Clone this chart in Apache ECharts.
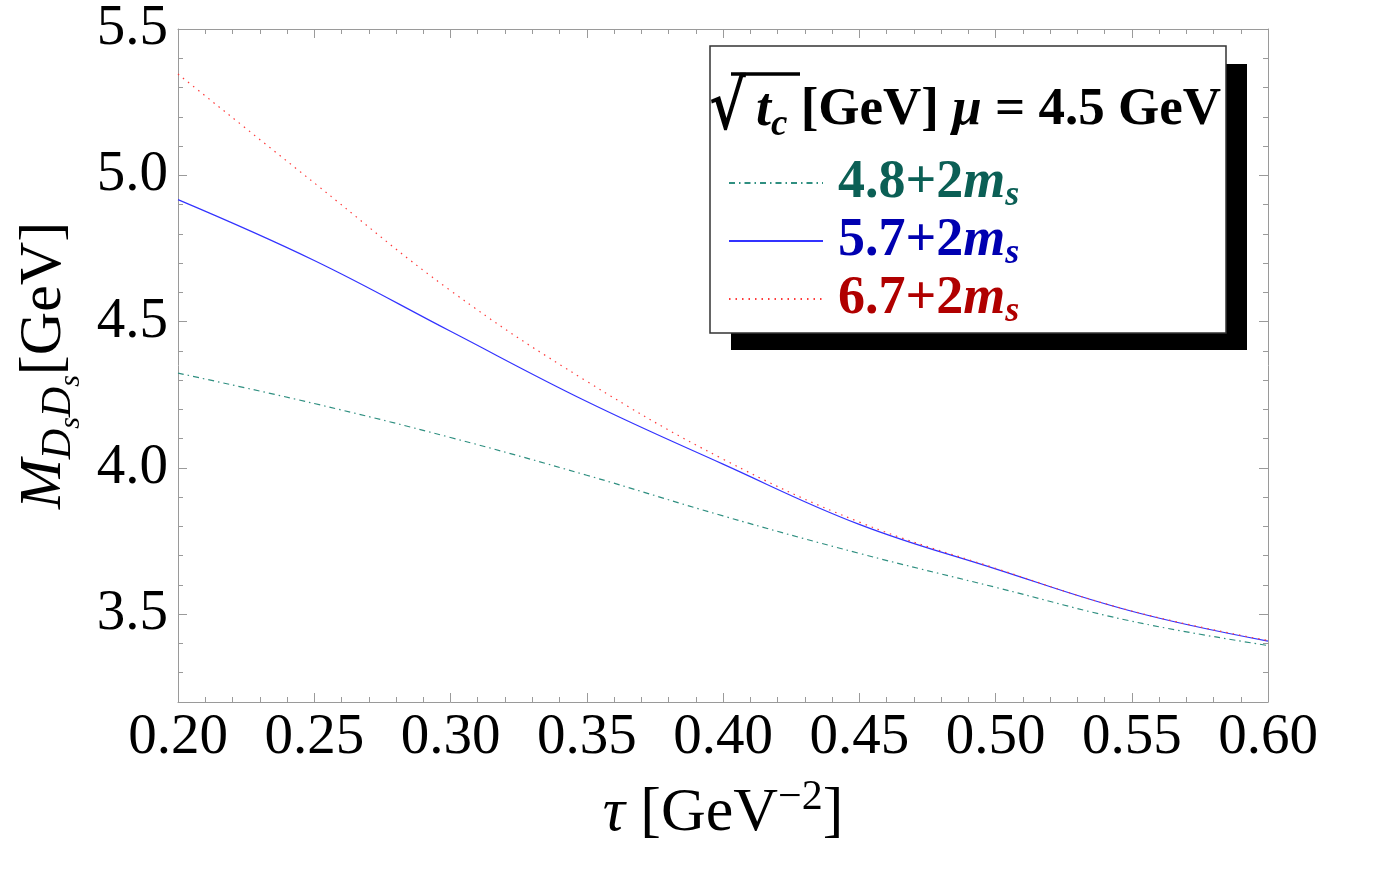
<!DOCTYPE html>
<html>
<head>
<meta charset="utf-8">
<script src="https://cdn.jsdelivr.net/npm/echarts@6/dist/echarts.min.js"></script>
<style>html,body{margin:0;padding:0;background:#fff}#c{width:1397px;height:873px}</style>
</head>
<body>
<div id="c"></div>
<script>
// ---- data ----
const tau = [0.20, 0.25, 0.30, 0.35, 0.40, 0.45, 0.50, 0.55, 0.60];
const m48 = [4.324, 4.220, 4.104, 3.975, 3.836, 3.708, 3.592, 3.476, 3.393];
const m57 = [4.917, 4.709, 4.467, 4.227, 4.013, 3.807, 3.655, 3.510, 3.408];
const m67 = [5.346, 4.974, 4.606, 4.296, 4.030, 3.815, 3.657, 3.511, 3.410];
const tcLabels = ['4.8', '5.7', '6.7'];
const yMajor = [3.5, 4.0, 4.5, 5.0, 5.5];
const xMajor = [0.20, 0.25, 0.30, 0.35, 0.40, 0.45, 0.50, 0.55, 0.60];

const FONT = 'Liberation Serif';
const axisGrey = '#9a9a9a';
const lineCols = ['#2f8f80', '#3333ff', '#ff3a3a'];
const textCols = ['#0b5f55', '#0000b0', '#b00000'];

function pairs(ys) { return tau.map((t, i) => [t, ys[i]]); }
const seriesVals = [m48, m57, m67];
const dashes = [[6, 4, 1.5, 4], 'solid', [1.5, 5]];

const legendRich = {};
tcLabels.forEach((l, i) => {
  legendRich['n' + i] = {fontFamily: FONT, fontWeight: 'bold', fontSize: 54, lineHeight: 54, verticalAlign: 'top', padding: [0, 0, 0, 10], color: textCols[i]};
  legendRich['m' + i] = {fontFamily: FONT, fontWeight: 'bold', fontStyle: 'italic', fontSize: 54, lineHeight: 54, verticalAlign: 'top', color: textCols[i]};
  legendRich['s' + i] = {fontFamily: FONT, fontWeight: 'bold', fontStyle: 'italic', fontSize: 36, lineHeight: 36, padding: [22, 0, 0, 0], verticalAlign: 'top', color: textCols[i]};
});

const chart = echarts.init(document.getElementById('c'), null, {renderer: 'canvas'});
const tickLabelStyle = {fontFamily: FONT, fontSize: 57, color: '#000'};

const option = {
  animation: false,
  backgroundColor: '#fff',
  grid: {left: 178, right: 129, top: 29, bottom: 171, containLabel: false},
  xAxis: [
    {
      type: 'value', position: 'bottom', min: 0.2, max: 0.6, interval: 0.05,
      axisLine: {show: true, lineStyle: {color: axisGrey, width: 1}},
      axisTick: {show: true, inside: true, length: 9, lineStyle: {color: axisGrey}},
      minorTick: {show: true, splitNumber: 5, length: 5, lineStyle: {color: axisGrey}},
      splitLine: {show: false}, minorSplitLine: {show: false},
      axisLabel: Object.assign({margin: 8, formatter: v => v.toFixed(2)}, tickLabelStyle),
      name: '{t|τ}{n| [GeV}{sup|−2}{n|]}', nameLocation: 'middle', nameGap: 75,
      nameTextStyle: {rich: {
        t: {fontFamily: FONT, fontStyle: 'italic', fontSize: 62, lineHeight: 68, verticalAlign: 'bottom', color: '#000'},
        n: {fontFamily: FONT, fontSize: 62, lineHeight: 68, verticalAlign: 'bottom', color: '#000'},
        sup: {fontFamily: FONT, fontSize: 42, lineHeight: 42, verticalAlign: 'top', color: '#000'}
      }}
    },
    {
      type: 'value', position: 'top', min: 0.2, max: 0.6, interval: 0.05,
      axisLine: {show: true, lineStyle: {color: axisGrey, width: 1}},
      axisTick: {show: true, inside: true, length: 9, lineStyle: {color: axisGrey}},
      minorTick: {show: true, splitNumber: 5, length: 5, lineStyle: {color: axisGrey}},
      splitLine: {show: false}, axisLabel: {show: false}
    }
  ],
  yAxis: [
    {
      type: 'value', position: 'left', min: 3.2, max: 5.5,
      axisLine: {show: true, lineStyle: {color: axisGrey, width: 1}},
      axisTick: {show: true, inside: true, length: 9, customValues: yMajor, lineStyle: {color: axisGrey}},
      splitLine: {show: false},
      axisLabel: Object.assign({margin: 10, customValues: yMajor, formatter: v => v.toFixed(1)}, tickLabelStyle),
      name: '{M|M}{D|D}{s|s}{D|D}{s|s}{g|[GeV]}', nameLocation: 'middle', nameRotate: 90, nameGap: 78,
      nameTextStyle: {rich: {
        M: {fontFamily: FONT, fontStyle: 'italic', fontSize: 60, lineHeight: 60, verticalAlign: 'top', color: '#000'},
        D: {fontFamily: FONT, fontStyle: 'italic', fontSize: 42, lineHeight: 42, padding: [24, 0, 0, 0], verticalAlign: 'top', color: '#000'},
        s: {fontFamily: FONT, fontStyle: 'italic', fontSize: 30, lineHeight: 30, padding: [42, 0, 0, 0], verticalAlign: 'top', color: '#000'},
        g: {fontFamily: FONT, fontSize: 60, lineHeight: 60, verticalAlign: 'top', color: '#000'}
      }}
    },
    {
      type: 'value', position: 'left', min: 3.2, max: 5.5, interval: 0.1,
      axisLine: {show: false},
      axisTick: {show: true, inside: true, length: 5, lineStyle: {color: axisGrey}},
      splitLine: {show: false}, axisLabel: {show: false}
    },
    {
      type: 'value', position: 'right', min: 3.2, max: 5.5,
      axisLine: {show: true, lineStyle: {color: axisGrey, width: 1}},
      axisTick: {show: true, inside: true, length: 9, customValues: yMajor, lineStyle: {color: axisGrey}},
      splitLine: {show: false}, axisLabel: {show: false, customValues: yMajor}
    },
    {
      type: 'value', position: 'right', min: 3.2, max: 5.5, interval: 0.1,
      axisLine: {show: false},
      axisTick: {show: true, inside: true, length: 5, lineStyle: {color: axisGrey}},
      splitLine: {show: false}, axisLabel: {show: false}
    }
  ],
  legend: {
    show: true, z: 100, orient: 'vertical', left: 728, top: 156, padding: 0, itemWidth: 94, itemHeight: 14, itemGap: 0,
    selectedMode: false,
    itemStyle: {opacity: 0},
    formatter: name => { const i = tcLabels.indexOf(name); return `{n${i}|${name}+2}{m${i}|m}{s${i}|s}`; },
    textStyle: {rich: legendRich},
    data: tcLabels
  },
  graphic: [
    {type: 'rect', z: 50, shape: {x: 731, y: 64, width: 516, height: 286}, style: {fill: '#000'}},
    {type: 'rect', z: 51, shape: {x: 710, y: 46, width: 516, height: 287}, style: {fill: '#fff', stroke: '#333', lineWidth: 1.5}},
    {type: 'text', z: 95, x: 709, y: 77, scaleX: 0.8, scaleY: 0.97, style: {
      text: '√', fontFamily: 'DejaVu Serif', fontWeight: 'bold', fontSize: 70, fill: '#000'
    }},
    {type: 'line', z: 95, shape: {x1: 731, y1: 74, x2: 800, y2: 74}, style: {stroke: '#000', lineWidth: 3.5}},
    {type: 'text', z: 95, left: 756, top: 84, style: {
      text: '{t|t}{c|c}{n| [GeV] }{mu|μ}{n| = 4.5 GeV}',
      rich: {
        t: {fontFamily: FONT, fontWeight: 'bold', fontStyle: 'italic', fontSize: 54, lineHeight: 60, verticalAlign: 'top', color: '#000'},
        c: {fontFamily: FONT, fontWeight: 'bold', fontStyle: 'italic', fontSize: 37, lineHeight: 37, padding: [23, 0, 0, 0], verticalAlign: 'top', color: '#000'},
        n: {fontFamily: FONT, fontWeight: 'bold', fontSize: 53, lineHeight: 60, verticalAlign: 'top', color: '#000'},
        mu: {fontFamily: FONT, fontWeight: 'bold', fontStyle: 'italic', fontSize: 53, lineHeight: 60, verticalAlign: 'top', color: '#000'}
      }
    }}
  ],
  series: seriesVals.map((vals, i) => ({
    name: tcLabels[i], type: 'line', xAxisIndex: 0, yAxisIndex: 0,
    data: pairs(vals), smooth: 0.4, symbol: 'none', z: 2,
    lineStyle: {color: lineCols[i], width: 1.2, type: dashes[i]},
    itemStyle: {color: lineCols[i]}
  }))
};
chart.setOption(option);
</script>
</body>
</html>
